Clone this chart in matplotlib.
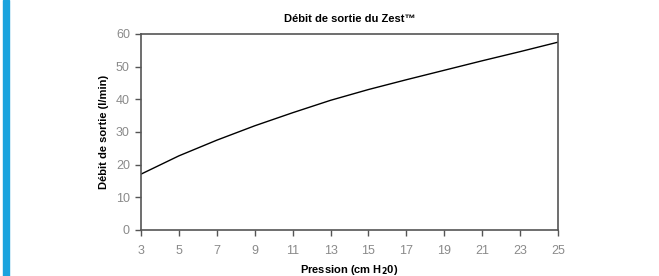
import matplotlib.pyplot as plt
from matplotlib.patches import Rectangle

pression = [3, 5, 7, 9, 11, 13, 15, 17, 19, 21, 23, 25]
debit = [17.1, 22.7, 27.5, 31.9, 35.9, 39.7, 43.0, 46.0, 48.9, 51.8, 54.6, 57.5]
xticks = list(range(3, 26, 2))
yticks = [0, 10, 20, 30, 40, 50, 60]

fam = ['Liberation Sans', 'DejaVu Sans']

fig = plt.figure(figsize=(6.59, 2.76), dpi=100)
fig.patches.append(Rectangle((3 / 659, 0), 6 / 659, 1, transform=fig.transFigure,
                             color='#1ba3de', zorder=0))

ax = fig.add_axes([141 / 659, 46 / 276, 417 / 659, 196 / 276])
ax.plot(pression, debit, color='black', lw=1.0)
ax.set_xlim(3, 25)
ax.set_ylim(0, 60)
ax.set_xticks(xticks)
ax.set_yticks(yticks)
for s in ax.spines.values():
    s.set_color('#555555')
    s.set_linewidth(1.2)
ax.tick_params(direction='out', length=4, width=1, color='#555555',
               labelsize=9, labelcolor='#8a8a8a')
ax.tick_params(axis='x', pad=7)
ax.tick_params(axis='y', pad=4)
for lab in ax.get_xticklabels() + ax.get_yticklabels():
    lab.set_family(fam)

ax.set_title('Débit de sortie du Zest™', fontsize=8, fontweight='bold',
             family=fam, pad=9)
ax.set_xlabel('Pression (cm H$_\\mathbf{2}$0)', fontsize=8, fontweight='bold',
              family=fam, labelpad=4)
ax.set_ylabel('Débit de sortie (l/min)', fontsize=8, fontweight='bold',
              family=fam, labelpad=5)

fig.savefig('out.png', dpi=100)
